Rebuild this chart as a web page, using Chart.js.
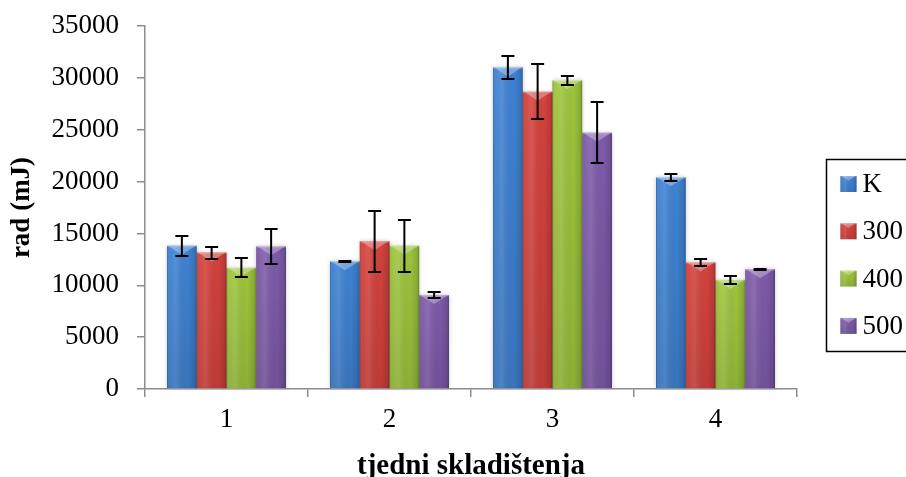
<!DOCTYPE html>
<html>
<head>
<meta charset="utf-8">
<script src="https://cdn.jsdelivr.net/npm/chart.js@4/dist/chart.umd.min.js"></script>
<style>
  html, body { margin: 0; padding: 0; background: #fff; }
  #wrap { width: 906px; height: 477px; }
</style>
</head>
<body>
<div id="wrap"><canvas id="radChart" width="906" height="477"></canvas></div>
<script>
// weeks of storage
const weeks = ["1", "2", "3", "4"];
const seriesNames = ["K", "300", "400", "500"];

// bar heights (mJ)
const valuesK   = [13800, 12300, 31000, 20400];
const values300 = [13150, 14250, 28650, 12200];
const values400 = [11700, 13800, 29750, 10500];
const values500 = [13750, 9050, 24700, 11550];

// error bar half-lengths
const errK   = [1000, 50, 1150, 350];
const err300 = [580, 2950, 2650, 320];
const err400 = [900, 2480, 450, 370];
const err500 = [1700, 260, 2950, 50];

const yTicks = [0, 5000, 10000, 15000, 20000, 25000, 30000, 35000];

const colors = ["#3f82d3", "#d4423d", "#9dc53c", "#7e5baa"];
const errors = [errK, err300, err400, err500];

const font = "'Liberation Serif', 'Times New Roman', serif";
const axisGray = "#8c8c8c";

// cylinder-like shading on top of a flat rect
function shadeRect(ctx, l, t, r, b) {
  const w = r - l;
  const g = ctx.createLinearGradient(l, 0, r, 0);
  g.addColorStop(0, "rgba(0,0,0,0.28)");
  g.addColorStop(0.07, "rgba(255,255,255,0.04)");
  g.addColorStop(0.3, "rgba(255,255,255,0.12)");
  g.addColorStop(0.7, "rgba(0,0,0,0.0)");
  g.addColorStop(0.93, "rgba(0,0,0,0.12)");
  g.addColorStop(1, "rgba(0,0,0,0.32)");
  ctx.fillStyle = g;
  ctx.fillRect(l, t, w, b - t);
  const v = ctx.createLinearGradient(0, t, 0, b);
  v.addColorStop(0, "rgba(0,0,0,0)");
  v.addColorStop(1, "rgba(0,0,0,0.1)");
  ctx.fillStyle = v;
  ctx.fillRect(l, t, w, b - t);
  // bevel on top
  const d = Math.min(w * 0.3, b - t);
  ctx.fillStyle = "rgba(255,255,255,0.3)";
  ctx.beginPath();
  ctx.moveTo(l + 1, t);
  ctx.lineTo(r - 1, t);
  ctx.lineTo(l + w / 2, t + d);
  ctx.closePath();
  ctx.fill();
  ctx.fillStyle = "rgba(255,255,255,0.15)";
  ctx.fillRect(l, t, w, 1.5);
}

const barLook = {
  id: "barLook",
  beforeDatasetsDraw(chart) {
    const ctx = chart.ctx;
    ctx.save();
    ctx.shadowColor = "rgba(0,0,0,0.22)";
    ctx.shadowBlur = 4;
    ctx.fillStyle = "#fff";
    chart.data.datasets.forEach((ds, i) => {
      chart.getDatasetMeta(i).data.forEach(bar => {
        const p = bar.getProps(["x", "y", "base", "width"], true);
        ctx.fillRect(p.x - p.width / 2, p.y, p.width, p.base - p.y);
      });
    });
    ctx.restore();
  },
  afterDatasetsDraw(chart) {
    const ctx = chart.ctx;
    const yScale = chart.scales.y;
    ctx.save();
    chart.data.datasets.forEach((ds, i) => {
      chart.getDatasetMeta(i).data.forEach(bar => {
        const p = bar.getProps(["x", "y", "base", "width"], true);
        shadeRect(ctx, p.x - p.width / 2, p.y, p.x + p.width / 2, p.base);
      });
    });
    // error bars
    ctx.strokeStyle = "#000";
    ctx.lineWidth = 2;
    chart.data.datasets.forEach((ds, i) => {
      chart.getDatasetMeta(i).data.forEach((bar, j) => {
        const v = ds.data[j], e = errors[i][j];
        const x = bar.x;
        const y1 = Math.round(yScale.getPixelForValue(v + e));
        const y2 = Math.round(yScale.getPixelForValue(v - e));
        ctx.beginPath();
        ctx.moveTo(x, y1); ctx.lineTo(x, y2);
        ctx.moveTo(x - 6.5, y1); ctx.lineTo(x + 6.5, y1);
        ctx.moveTo(x - 6.5, y2); ctx.lineTo(x + 6.5, y2);
        ctx.stroke();
      });
    });
    ctx.restore();
  },
  afterDraw(chart) {
    // boxed legend on the right, running off the edge
    const ctx = chart.ctx;
    const area = chart.chartArea;
    const boxL = area.right + 29.5, boxT = 159.5, boxB = 351.5;
    ctx.save();
    ctx.strokeStyle = "#000";
    ctx.lineWidth = 1.5;
    ctx.strokeRect(boxL, boxT, 200, boxB - boxT);
    ctx.font = "27px " + font;
    ctx.textBaseline = "middle";
    ctx.textAlign = "left";
    seriesNames.forEach((name, i) => {
      const cy = 184 + i * 47.3;
      const l = boxL + 14, s = 16;
      ctx.fillStyle = colors[i];
      ctx.fillRect(l, cy - s / 2, s, s);
      shadeRect(ctx, l, cy - s / 2, l + s, cy + s / 2);
      ctx.fillStyle = "#000";
      ctx.fillText(name, l + s + 6, cy + 1);
    });
    ctx.restore();
  }
};

const datasets = [valuesK, values300, values400, values500].map((vals, i) => ({
  label: seriesNames[i],
  data: vals,
  backgroundColor: colors[i],
  borderWidth: 0,
  categoryPercentage: 0.73,
  barPercentage: 1.0
}));

new Chart(document.getElementById("radChart"), {
  type: "bar",
  data: { labels: weeks, datasets: datasets },
  options: {
    responsive: false,
    animation: false,
    devicePixelRatio: 1,
    layout: { padding: { top: 26, right: 109, left: 0, bottom: 0 } },
    plugins: {
      legend: { display: false },
      tooltip: { enabled: false }
    },
    scales: {
      x: {
        grid: {
          display: true,
          drawOnChartArea: false,
          drawTicks: true,
          tickLength: 8,
          color: axisGray,
          lineWidth: 1.5
        },
        border: { color: axisGray, width: 1.5 },
        ticks: { color: "#000", padding: 7, font: { family: font, size: 27 } },
        title: {
          display: true,
          text: "tjedni skladištenja",
          color: "#000",
          padding: { top: 0, bottom: -7 },
          font: { family: font, size: 29, weight: "bold" }
        },
        afterFit(scale) { scale.height = 88; scale.paddingTop = 0; }
      },
      y: {
        min: 0,
        max: 35000,
        afterBuildTicks(scale) { scale.ticks = yTicks.map(v => ({ value: v })); },
        grid: {
          display: true,
          drawOnChartArea: false,
          drawTicks: true,
          tickLength: 8,
          color: axisGray,
          lineWidth: 1.5
        },
        border: { color: axisGray, width: 1.5 },
        ticks: {
          color: "#000",
          padding: 18,
          font: { family: font, size: 27 },
          callback: v => String(v)
        },
        title: {
          display: true,
          text: "rad (mJ)",
          color: "#000",
          padding: { top: 6, bottom: 0 },
          font: { family: font, size: 27, weight: "bold" }
        },
        afterFit(scale) { scale.width = 145; scale.paddingTop = 0; scale.paddingBottom = 0; }
      }
    }
  },
  plugins: [barLook]
});
</script>
</body>
</html>
